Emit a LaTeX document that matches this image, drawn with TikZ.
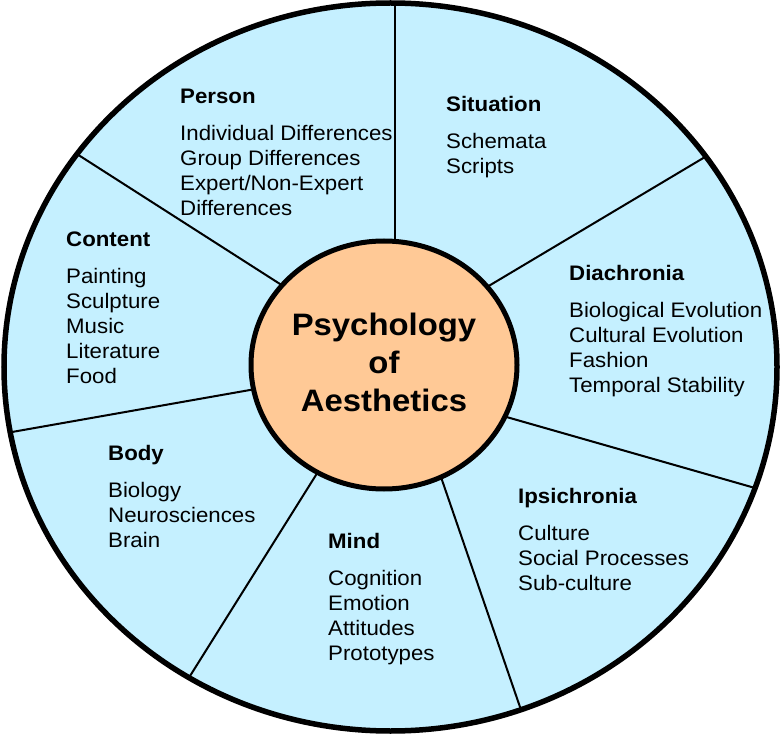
\documentclass[tikz,border=0pt]{standalone}
\usepackage{fontspec}
\setmainfont{Liberation Sans}[FakeStretch=1.06]
\usetikzlibrary{calc}
\definecolor{wheelblue}{RGB}{197,240,255}
\definecolor{hubfill}{RGB}{255,201,150}
\tikzset{
  spoke/.style={line width=2pt, black},
  block/.style={anchor=base west, inner sep=0pt, font=\fontsize{21}{25}\selectfont},
  hubtext/.style={anchor=base, inner sep=0pt, font=\fontsize{31}{38}\selectfont\bfseries},
}
\newcommand{\blocktext}[2]{\begin{tabular}[t]{@{}l@{}}\textbf{#1}\\[12pt] #2\end{tabular}}
\begin{document}
\begin{tikzpicture}[x=1pt,y=-1pt]
\useasboundingbox (0,0) rectangle (782,735);
\fill[wheelblue] (390.5,367) ellipse [x radius=386.5pt, y radius=364pt];
% spokes
\coordinate (o1) at (394.5,3);   \coordinate (i1) at (394.5,241);
\coordinate (o2) at (80,156);    \coordinate (i2) at (280,284);
\coordinate (o3) at (705,157);   \coordinate (i3) at (492,284);
\coordinate (o4) at (12,432);    \coordinate (i4) at (250,390);
\coordinate (o5) at (755,488);   \coordinate (i5) at (510,418);
\coordinate (o6) at (190,676);   \coordinate (i6) at (316,475);
\coordinate (o7) at (520,707);   \coordinate (i7) at (442,480);
\begin{scope}
\clip (390.5,367) ellipse [x radius=386.5pt, y radius=364pt];
\foreach \k in {1,...,7}{
  \draw[spoke] ($(o\k)!-0.1!(i\k)$) -- ($(i\k)!-0.1!(o\k)$);
}
\end{scope}
% hub
\filldraw[fill=hubfill, draw=black, line width=5pt] (384,365) ellipse [x radius=133pt, y radius=124pt];
\draw[black, line width=5.5pt] (390.5,367) ellipse [x radius=386.5pt, y radius=364pt];
\node[hubtext] (hub) at (384,336) {\begin{tabular}[t]{@{}c@{}}Psychology\\of\\Aesthetics\end{tabular}};
% text blocks
\node[block] (p) at (180,104) {\blocktext{Person}{Individual Differences\\Group Differences\\Expert/Non-Expert\\Differences}};
\node[block] (s) at (446,112) {\blocktext{Situation}{Schemata\\Scripts}};
\node[block] (c) at (66,247) {\blocktext{Content}{Painting\\Sculpture\\Music\\Literature\\Food}};
\node[block] (d) at (569,281) {\blocktext{Diachronia}{Biological Evolution\\Cultural Evolution\\Fashion\\Temporal Stability}};
\node[block] (b) at (108,460) {\blocktext{Body}{Biology\\Neurosciences\\Brain}};
\node[block] (m) at (328,548) {\blocktext{Mind}{Cognition\\Emotion\\Attitudes\\Prototypes}};
\node[block] (ip) at (518,503) {\blocktext{Ipsichronia}{Culture\\Social Processes\\Sub-culture}};
\end{tikzpicture}
\end{document}
